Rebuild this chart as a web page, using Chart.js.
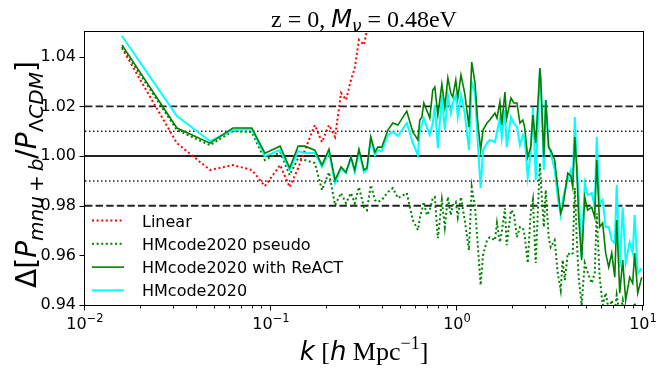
<!DOCTYPE html>
<html>
<head>
<meta charset="utf-8">
<script src="https://cdn.jsdelivr.net/npm/chart.js@4.4.0/dist/chart.umd.min.js"></script>
<style>
html,body{margin:0;padding:0;background:#fff;}
#wrap{width:666px;height:375px;position:relative;}
</style>
</head>
<body>
<div id="wrap"><canvas id="c" width="666" height="375"></canvas></div>
<script>
// wavenumbers k [h/Mpc] shared by all curves
const k = [0.0158,0.0312,0.0470,0.0624,0.0789,0.0927,0.112,0.126,0.140,0.152,
0.172,0.188,0.205,0.221,0.238,0.253,0.269,0.282,0.297,0.316,
0.328,0.344,0.362,0.375,0.394,0.425,0.452,0.481,
0.537,0.558,0.579,0.616,0.631,0.647,0.663,0.688,0.714,0.741,
0.760,0.789,0.829,0.860,0.893,0.926,0.949,0.985,1.01,1.05,
1.10,1.16,1.20,1.25,1.29,1.34,1.38,1.45,1.50,
1.60,1.64,1.70,1.74,1.81,1.85,1.95,2.02,2.10,2.18,
2.26,2.31,2.40,2.49,2.56,2.65,2.79,2.82,2.93,3.00,
3.11,3.19,3.35,3.48,3.61,3.70,3.80,3.94,4.09,
4.19,4.30,4.40,4.51,4.68,4.86,5.04,5.30,5.50,5.64,
5.85,6.07,6.30,6.54,6.79,7.05,7.22,7.50,7.78,8.07,
8.48,8.80,9.02,9.37,9.84];

const linearRatio = [1.0435,1.0052,0.9944,0.9964,0.9944,0.9879,0.9964,0.9875,0.9952,1.0024,
1.0125,1.0056,1.0125,1.0077,1.0254,1.0226,1.0306,1.0355,1.0468,1.0448,
1.0508,1.0569];

const pseudoRatio = [1.0440,1.0105,1.0044,1.0101,1.0097,0.9984,1.0016,0.9923,0.9992,0.9984,
0.9972,0.9863,0.9935,0.9802,0.9851,0.9810,0.9851,0.9810,0.9875,0.9794,
0.9782,0.9883,0.9823,0.9815,0.9823,0.9855,0.9871,0.9831,
0.9851,0.9794,0.9742,0.9702,0.9750,0.9782,0.9815,0.9762,0.9782,0.9831,
0.9835,0.9669,0.9823,0.9714,0.9835,0.9762,0.9802,0.9815,0.9754,0.9835,
0.9742,0.9621,0.9875,0.9794,0.9653,0.9480,0.9601,0.9661,0.9673,
0.9661,0.9730,0.9653,0.9694,0.9790,0.9641,0.9782,0.9770,0.9673,0.9714,
0.9710,0.9681,0.9569,0.9770,0.9823,0.9569,0.9972,0.9903,0.9714,0.9863,
0.9673,0.9633,0.9661,0.9528,0.9460,0.9581,0.9500,0.9609,0.9601,
0.9609,0.9871,0.9673,0.9512,0.9399,0.9569,0.9532,0.9488,0.9528,0.9770,
0.9512,0.9399,0.9448,0.938,0.9419,0.937,0.944,0.936,0.942,0.935,
0.940,0.934,0.941,0.933,0.938];

const reactRatio = [1.0448,1.0113,1.0052,1.0113,1.0113,1.0012,1.0040,0.9952,1.0040,1.0040,
1.0024,0.9964,1.0028,0.9903,0.9956,0.9935,0.9996,0.9944,1.0028,0.9944,
0.9952,1.0077,1.0016,1.0036,1.0036,1.0105,1.0133,1.0125,
1.0181,1.0137,1.0097,1.0065,1.0145,1.0157,1.0214,1.0185,1.0153,1.0266,
1.0278,1.0165,1.0290,1.0198,1.0315,1.0254,1.0238,1.0306,1.0234,1.0327,
1.0254,1.0117,1.0379,1.0294,1.0145,1.0024,1.0105,1.0133,1.0145,
1.0173,1.0153,1.0218,1.0125,1.0258,1.0153,1.0234,1.0214,1.0214,1.0133,
1.0145,1.0117,0.9996,1.0036,1.0165,1.0052,1.0355,1.0306,0.9996,1.0226,
1.0036,1.0024,0.9984,0.9875,0.9770,0.9794,0.9851,0.9931,0.9920,
0.9875,1.0077,0.9956,0.9754,0.9581,0.9835,0.9782,0.9794,0.9754,0.9984,
0.9714,0.9730,0.9609,0.9552,0.9609,0.9512,0.9742,0.9448,0.9581,0.9419,
0.9512,0.9488,0.9609,0.9448,0.9512];

const hmcodeRatio = [1.0484,1.0161,1.0060,1.0105,1.0109,1.0000,1.0024,0.9944,1.0020,1.0012,
1.0012,0.9956,1.0016,0.9891,0.9952,0.9931,0.9992,0.9935,1.0016,0.9935,
0.9944,1.0069,1.0004,1.0024,1.0020,1.0085,1.0097,1.0081,
1.0133,1.0093,1.0052,1.0004,1.0105,1.0125,1.0153,1.0117,1.0085,1.0133,
1.0206,1.0032,1.0246,1.0105,1.0246,1.0173,1.0214,1.0246,1.0157,1.0246,
1.0173,1.0024,1.0298,1.0254,1.0065,0.9871,1.0024,1.0052,1.0065,
1.0056,1.0097,1.0153,1.0073,1.0185,1.0036,1.0157,1.0133,1.0117,1.0044,
1.0085,1.0073,0.9915,1.0012,1.0198,0.9903,1.0347,1.0306,0.9944,1.0226,
1.0036,1.0012,0.9944,0.9835,0.9762,0.9823,0.9863,0.9903,0.9944,
0.9903,1.0157,0.9972,0.9851,0.9593,0.9891,0.9843,0.9851,0.9794,1.0077,
0.9810,0.9823,0.9714,0.9714,0.9661,0.9649,0.9883,0.9552,0.9794,0.9569,
0.9653,0.9609,0.9762,0.9528,0.9548];

const seriesLabels = ['Linear','HMcode2020 pseudo','HMcode2020 with ReACT','HMcode2020'];
const yTicks = [0.94,0.96,0.98,1.00,1.02,1.04];
const xMajorTicks = [0.01,0.1,1,10];
const xTickExponents = ['\u22122','\u22121','0','1'];
const solidLevel = [1.00];
const dashedLevels = [1.02,0.98];
const dottedLevels = [1.01,0.99];
const xRange = [0.01,10];
const yRange = [0.94,1.05];

function pts(ys){ const out=[]; for(let i=0;i<ys.length;i++){ out.push({x:k[i],y:ys[i]}); } return out; }
function hline(v){ return [{x:xRange[0],y:v},{x:xRange[1],y:v}]; }

const datasets = [
  {label:seriesLabels[2], data:pts(reactRatio), borderColor:'#008000', borderWidth:1.6, order:1, legendIndex:2},
  {label:seriesLabels[3], data:pts(hmcodeRatio), borderColor:'#00ffff', borderWidth:2, order:2, legendIndex:3},
  {label:seriesLabels[1], data:pts(pseudoRatio), borderColor:'#008000', borderWidth:2, borderDash:[2,2.6], order:3, legendIndex:1},
  {label:seriesLabels[0], data:pts(linearRatio), borderColor:'#ff0000', borderWidth:2, borderDash:[2,2.6], order:4, legendIndex:0},
];
solidLevel.forEach(v=>datasets.push({label:'ref', data:hline(v), borderColor:'#222', borderWidth:2, order:10, isRef:true}));
dashedLevels.forEach(v=>datasets.push({label:'ref', data:hline(v), borderColor:'#222', borderWidth:1.8, borderDash:[7.4,3.2], order:10, isRef:true}));
dottedLevels.forEach(v=>datasets.push({label:'ref', data:hline(v), borderColor:'#222', borderWidth:1.5, borderDash:[1.5,2.5], order:10, isRef:true}));

const xTickVals = [];
for (let e=-2; e<=0; e++) for (let m=1; m<=9; m++) xTickVals.push(m*Math.pow(10,e));
xTickVals.push(10);

function drawRuns(ctx, runs, x, y, align){
  let w=0;
  runs.forEach(r=>{ctx.font=r.f; r.w=ctx.measureText(r.t).width; w+=r.w;});
  let cx = align==='center' ? x-w/2 : (align==='right' ? x-w : x);
  runs.forEach(r=>{ctx.font=r.f; ctx.textAlign='left'; ctx.fillText(r.t, cx, y+(r.dy||0)); cx+=r.w;});
  return w;
}

const decor = {
  id:'decor',
  afterDraw(chart){
    const ctx = chart.ctx, ca = chart.chartArea;
    const xs = chart.scales.x, ys = chart.scales.y;
    ctx.save();
    ctx.strokeStyle='#000'; ctx.lineWidth=1;
    ctx.strokeRect(ca.left-0.5, ca.top-0.5, ca.right-ca.left+1, ca.bottom-ca.top+1);
    ys.ticks.forEach(t=>{
      const py = Math.round(ys.getPixelForValue(t.value))+0.5;
      ctx.beginPath(); ctx.moveTo(ca.left-0.5,py); ctx.lineTo(ca.left-5.5,py); ctx.stroke();
    });
    xs.ticks.forEach(t=>{
      const px = Math.round(xs.getPixelForValue(t.value))-0.5;
      const len = t.major ? 5 : 3;
      ctx.beginPath(); ctx.moveTo(px,ca.bottom+0.5); ctx.lineTo(px,ca.bottom+0.5+len); ctx.stroke();
    });
    ctx.fillStyle='#000';
    ctx.textBaseline='alphabetic';
    xMajorTicks.forEach((v,i)=>{
      const px = xs.getPixelForValue(v);
      drawRuns(ctx,[{t:'10',f:'16px "DejaVu Sans"'},{t:xTickExponents[i],f:'11.5px "DejaVu Sans"',dy:-7.5}],px,329,'center');
    });
    drawRuns(ctx,[
      {t:'z = 0, ',f:'24px "Liberation Serif"'},
      {t:'M',f:'italic 24px "DejaVu Sans"'},
      {t:'\u03bd',f:'italic 17px "DejaVu Sans"',dy:4.5},
      {t:' = 0.48eV',f:'24px "Liberation Serif"'}
    ], (ca.left+ca.right)/2, 27, 'center');
    drawRuns(ctx,[
      {t:'k',f:'italic 26px "DejaVu Sans"'},
      {t:' [',f:'26px "Liberation Serif"'},
      {t:'h',f:'italic 26px "DejaVu Sans"'},
      {t:' Mpc',f:'26px "Liberation Serif"'},
      {t:'\u22121',f:'18px "Liberation Serif"',dy:-11},
      {t:']',f:'26px "Liberation Serif"'}
    ], (ca.left+ca.right)/2, 360, 'center');
    ctx.save();
    ctx.translate(36,(ca.top+ca.bottom)/2+6);
    ctx.rotate(-Math.PI/2);
    const S=28, s=20;
    drawRuns(ctx,[
      {t:'\u0394',f:S+'px "DejaVu Sans"'},
      {t:'[',f:S+'px "DejaVu Sans"'},
      {t:'P',f:'italic '+S+'px "DejaVu Sans"'},
      {t:'mnu\u2009+\u2009b',f:'italic '+s+'px "DejaVu Sans"',dy:6.5},
      {t:'/',f:S+'px "DejaVu Sans"'},
      {t:'P',f:'italic '+S+'px "DejaVu Sans"'},
      {t:'\u039b',f:s+'px "DejaVu Sans"',dy:6.5},
      {t:'CDM',f:'italic '+s+'px "DejaVu Sans"',dy:6.5},
      {t:']',f:S+'px "DejaVu Sans"'}
    ],0,0,'center');
    ctx.restore();
    const rows=[220.5,243.8,267.1,290.4];
    const legendSets = chart.data.datasets.filter(d=>!d.isRef).sort((a,b)=>a.legendIndex-b.legendIndex);
    legendSets.forEach((d,i)=>{
      const y=rows[i];
      ctx.save();
      ctx.strokeStyle=d.borderColor; ctx.lineWidth=d.borderWidth;
      ctx.setLineDash(d.borderDash||[]);
      ctx.beginPath(); ctx.moveTo(92,y); ctx.lineTo(124,y); ctx.stroke();
      ctx.restore();
      ctx.font='16px "DejaVu Sans"'; ctx.textAlign='left';
      ctx.fillText(d.label,142,y+6);
    });
    ctx.restore();
  }
};

new Chart(document.getElementById('c').getContext('2d'),{
  type:'line',
  data:{datasets},
  options:{
    responsive:false, animation:false, devicePixelRatio:1,
    layout:{padding:{left:0,right:23,top:32,bottom:0}},
    plugins:{legend:{display:false},title:{display:false},tooltip:{enabled:false}},
    elements:{point:{radius:0},line:{tension:0,fill:false}},
    scales:{
      x:{type:'logarithmic',min:xRange[0],max:xRange[1],
         grid:{display:false,drawTicks:false},border:{display:false},
         ticks:{display:false},
         afterBuildTicks:s=>{s.ticks=xTickVals.map(v=>({value:v,major:xMajorTicks.includes(v)}));},
         afterFit:s=>{s.height=70;}},
      y:{type:'linear',min:yRange[0],max:yRange[1],
         grid:{display:false,drawTicks:false},border:{display:false},
         ticks:{padding:9,color:'#000',font:{family:'DejaVu Sans',size:16},callback:v=>v.toFixed(2)},
         afterBuildTicks:s=>{s.ticks=yTicks.map(v=>({value:v}));},
         afterFit:s=>{s.width=85;}}
    }
  },
  plugins:[decor]
});
</script>
</body>
</html>
